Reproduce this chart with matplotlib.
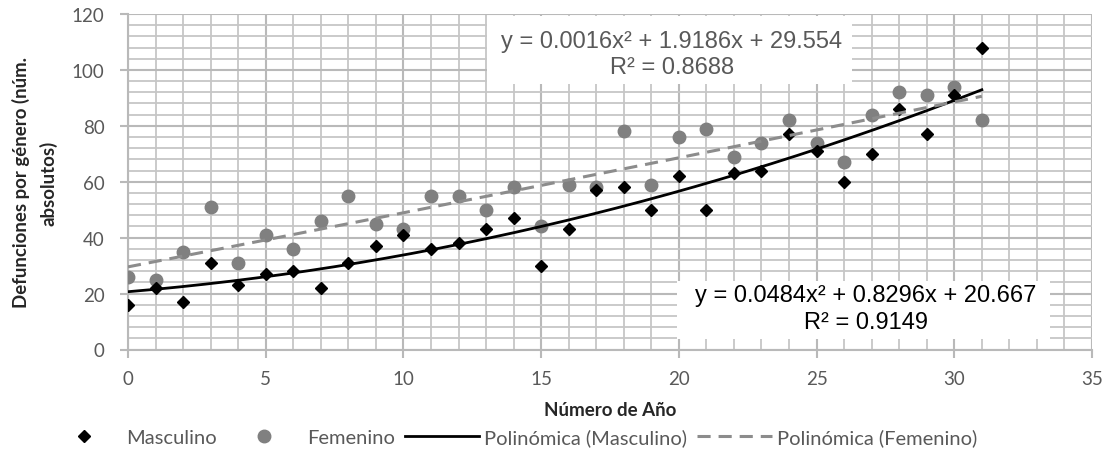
import numpy as np
import matplotlib
matplotlib.use("Agg")
import matplotlib.pyplot as plt
from matplotlib.ticker import MultipleLocator
from matplotlib.patches import Rectangle

# ---- data ----
years = list(range(0, 32))
masculino = [16, 22, 17, 31, 23, 27, 28, 22, 31, 37, 41, 36, 38, 43, 47, 30,
             43, 57, 58, 50, 62, 50, 63, 64, 77, 71, 60, 70, 86, 77, 91, 108]
femenino = [26, 25, 35, 51, 31, 41, 36, 46, 55, 45, 43, 55, 55, 50, 58, 44,
            59, 58, 78, 59, 76, 79, 69, 74, 82, 74, 67, 84, 92, 91, 94, 82]
coef_masc = [0.0484, 0.8296, 20.667]
coef_fem = [0.0016, 1.9186, 29.554]
eq_masc = ["y = 0.0484x² + 0.8296x + 20.667", "R² = 0.9149"]
eq_fem = ["y = 0.0016x² + 1.9186x + 29.554", "R² = 0.8688"]
labels = ["Masculino", "Femenino", "Polinómica (Masculino)", "Polinómica (Femenino)"]
xlabel = "Número de Año"
ylabel = "Defunciones por género (núm.\nabsolutos)"

W, H = 1108, 452
fig = plt.figure(figsize=(W / 100, H / 100), dpi=100)
ax = fig.add_axes([128 / W, 1 - 350.5 / H, (1092 - 128) / W, (350.5 - 15) / H])

ui_font = ["Lato", "DejaVu Sans"]
grey_txt = "#595959"
grid_major = "#b9b9b9"
grid_minor = "#c6c6c6"

ax.set_xlim(0, 35)
ax.set_ylim(0, 120)
ax.xaxis.set_major_locator(MultipleLocator(5))
ax.xaxis.set_minor_locator(MultipleLocator(1))
ax.yaxis.set_major_locator(MultipleLocator(20))
ax.yaxis.set_minor_locator(MultipleLocator(4))
ax.grid(which="major", color=grid_major, linewidth=1.5)
ax.grid(which="minor", color=grid_minor, linewidth=1.3)
ax.set_axisbelow(True)
for s in ["top", "right"]:
    ax.spines[s].set_visible(False)
for s in ["left", "bottom"]:
    ax.spines[s].set_color(grid_major)
    ax.spines[s].set_linewidth(1.5)
ax.tick_params(which="major", length=6, color=grid_major, width=1.5,
               labelcolor=grey_txt, labelsize=13.5)
ax.tick_params(which="minor", length=0)
for lab in ax.get_xticklabels() + ax.get_yticklabels():
    lab.set_family(ui_font)
ax.tick_params(axis="x", pad=9)
ax.tick_params(axis="y", pad=11)

xs = np.array(years)
xfit = np.linspace(xs.min(), xs.max(), 200)
ax.plot(years, masculino, linestyle="none", marker="D", markersize=6.5,
        color="black", label=labels[0], zorder=4)
ax.plot(years, femenino, linestyle="none", marker="o", markersize=9,
        color="#808080", label=labels[1], zorder=3)
ax.plot(xfit, np.polyval(coef_masc, xfit), color="black", linewidth=2.0,
        label=labels[2], zorder=5)
ax.plot(xfit, np.polyval(coef_fem, xfit), color="#8c8c8c", linewidth=2.2,
        linestyle=(0, (4.3, 2.6)), label=labels[3], zorder=5)

# equation boxes (white background)
def box(x0, y0, x1, y1):
    fig.patches.append(Rectangle((x0 / W, 1 - y1 / H), (x1 - x0) / W, (y1 - y0) / H,
                                 transform=fig.transFigure, facecolor="white",
                                 edgecolor="none", zorder=6))
box(487, 17, 852, 85)
box(677, 282, 1050, 340)
eq_font = ["Liberation Sans", "DejaVu Sans"]
fig.text(672 / W, 1 - 42 / H, eq_fem[0], ha="center", va="center", fontsize=17,
         color=grey_txt, family=eq_font, zorder=7)
fig.text(672 / W, 1 - 68 / H, eq_fem[1], ha="center", va="center", fontsize=17,
         color=grey_txt, family=eq_font, zorder=7)
fig.text(866 / W, 1 - 296 / H, eq_masc[0], ha="center", va="center", fontsize=17,
         color="black", family=eq_font, zorder=7)
fig.text(866 / W, 1 - 323 / H, eq_masc[1], ha="center", va="center", fontsize=17,
         color="black", family=eq_font, zorder=7)

fig.text(610 / W, 1 - 411 / H, xlabel, ha="center", va="center", fontsize=13.5,
         fontweight="bold", color="#262626", family=ui_font)
fig.text(35 / W, 1 - 183 / H, ylabel, ha="center", va="center", fontsize=13.4,
         fontweight="bold", color="#262626", family=ui_font, rotation=90,
         linespacing=1.6)

leg = fig.legend(loc="center", bbox_to_anchor=(512 / W, 1 - 438 / H), ncol=4,
                 frameon=False, handlelength=3.7, handletextpad=0.25,
                 columnspacing=0.5, prop={"family": ui_font, "size": 14.5})
for t in leg.get_texts():
    t.set_color(grey_txt)

fig.savefig("out.png", dpi=100)
